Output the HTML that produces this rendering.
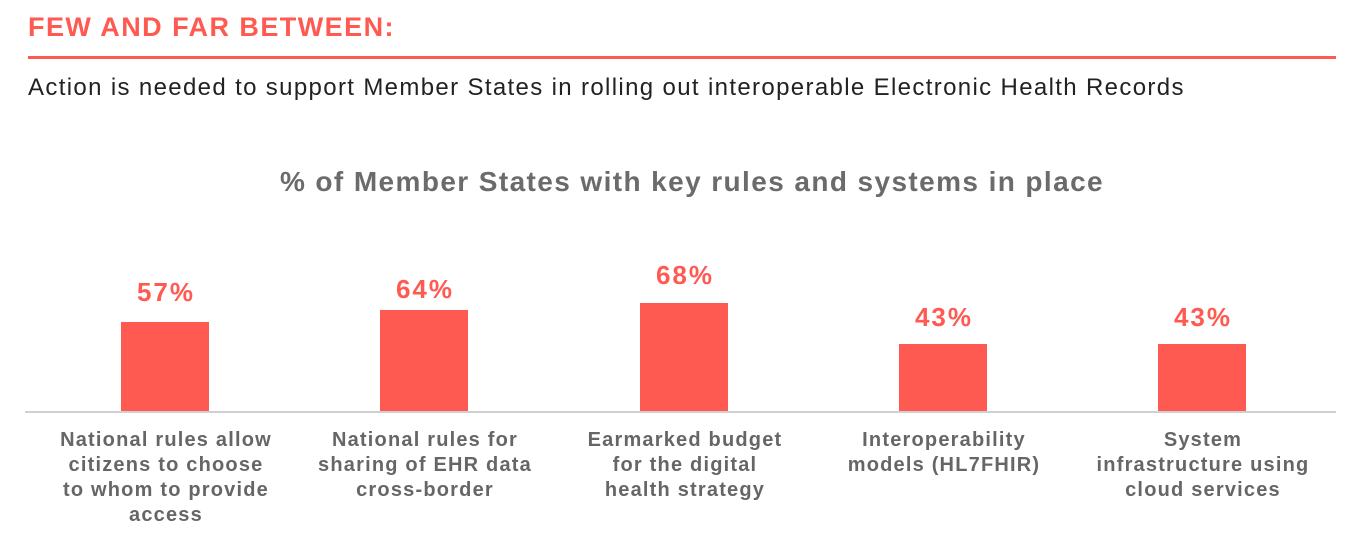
<!DOCTYPE html>
<html><head><meta charset="utf-8"><style>
body{margin:0;width:1369px;height:558px;background:#fff;font-family:"Liberation Sans",sans-serif;position:relative;overflow:hidden}
.a{position:absolute}
.h{left:28px;top:12px;color:#FF5A52;font-weight:bold;font-size:27px;letter-spacing:1.45px}
.rule{left:28px;top:56px;width:1308px;height:3px;background:#FF5A52}
.sub{left:28px;top:74px;font-size:24px;color:#222;letter-spacing:1.35px;white-space:nowrap}
.ct{left:0;width:1384px;text-align:center;top:166px;font-size:28px;font-weight:bold;color:#6b6b6b;letter-spacing:1.4px}
.base{left:25px;top:411px;width:1311px;height:2px;background:#d0d0d0}
.bar{background:#FF5A52;width:88px}
.v{width:200px;text-align:center;color:#FF5A52;font-weight:bold;font-size:26px;letter-spacing:2px}
.l{width:260px;text-align:center;color:#666;font-weight:bold;font-size:20px;line-height:25px;top:428px;letter-spacing:1.2px}
</style></head><body>
<div class="a h">FEW AND FAR BETWEEN:</div>
<div class="a rule"></div>
<div class="a sub">Action is needed to support Member States in rolling out interoperable Electronic Health Records</div>
<div class="a ct">% of Member States with key rules and systems in place</div>

<div class="a bar" style="left:121px;top:322px;height:90px"></div>
<div class="a bar" style="left:380px;top:310px;height:102px"></div>
<div class="a bar" style="left:640px;top:303px;height:109px"></div>
<div class="a bar" style="left:899px;top:344px;height:68px"></div>
<div class="a bar" style="left:1158px;top:344px;height:68px"></div>
<div class="a base"></div>

<div class="a v" style="left:66px;top:277px">57%</div>
<div class="a v" style="left:325px;top:274px">64%</div>
<div class="a v" style="left:585px;top:260px">68%</div>
<div class="a v" style="left:844px;top:302px">43%</div>
<div class="a v" style="left:1103px;top:302px">43%</div>

<div class="a l" style="left:36px">National rules allow<br>citizens to choose<br>to whom to provide<br>access</div>
<div class="a l" style="left:295px">National rules for<br>sharing of EHR data<br>cross-border</div>
<div class="a l" style="left:555px">Earmarked budget<br>for the digital<br>health strategy</div>
<div class="a l" style="left:814px">Interoperability<br>models (HL7FHIR)</div>
<div class="a l" style="left:1073px">System<br>infrastructure using<br>cloud services</div>
</body></html>
